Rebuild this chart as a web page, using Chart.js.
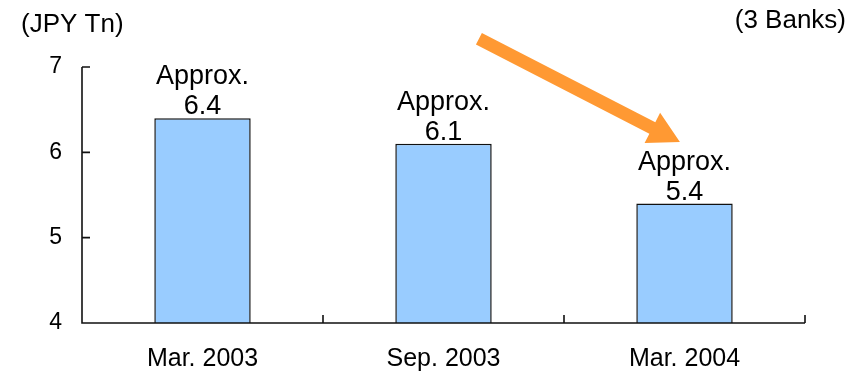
<!DOCTYPE html>
<html>
<head>
<meta charset="utf-8">
<script src="https://cdn.jsdelivr.net/npm/chart.js@4/dist/chart.umd.min.js"></script>
<style>
  html, body { margin: 0; padding: 0; background: #fff; }
  #wrap { width: 865px; height: 374px; }
</style>
</head>
<body>
<div id="wrap"><canvas id="c" width="865" height="374"></canvas></div>
<script>
// Problem-loan balance of the three banks (JPY trillion)
const categories = ['Mar. 2003', 'Sep. 2003', 'Mar. 2004'];
const balances = [6.4, 6.1, 5.4];
const yTicks = [4, 5, 6, 7];
const unitLabel = '(JPY Tn)';
const scopeLabel = '(3 Banks)';
const valuePrefix = 'Approx.';
// Trend arrow, in data units: [category position, value]
const arrowFrom = [1.147, 7.33];
const arrowTo = [1.981, 6.12];

const FONT = '"Liberation Sans", Arial, sans-serif';
const INK = '#111';

const decor = {
  id: 'decor',
  afterDatasetsDraw(chart) {
    const { ctx, chartArea: a, scales: { x, y } } = chart;
    ctx.save();
    // axes with inward tick marks
    ctx.strokeStyle = INK;
    ctx.lineWidth = 1.6;
    ctx.beginPath();
    ctx.moveTo(a.left, a.top);
    ctx.lineTo(a.left, a.bottom);
    ctx.lineTo(a.right, a.bottom);
    yTicks.forEach(v => {
      const py = y.getPixelForValue(v);
      ctx.moveTo(a.left, py);
      ctx.lineTo(a.left + 8, py);
    });
    const step = x.getPixelForValue(1) - x.getPixelForValue(0);
    for (let i = 1; i <= categories.length; i++) {
      const px = x.getPixelForValue(i) - step / 2;
      ctx.moveTo(px, a.bottom);
      ctx.lineTo(px, a.bottom - 8);
    }
    ctx.stroke();

    // value labels above bars
    ctx.fillStyle = '#000';
    ctx.font = '27px ' + FONT;
    ctx.textAlign = 'center';
    ctx.textBaseline = 'alphabetic';
    const meta = chart.getDatasetMeta(0);
    meta.data.forEach((bar, i) => {
      ctx.fillText(balances[i].toFixed(1), bar.x, bar.y - 4);
      ctx.fillText(valuePrefix, bar.x, bar.y - 34);
    });

    // corner captions
    ctx.font = '26px ' + FONT;
    ctx.textAlign = 'left';
    ctx.fillText(unitLabel, 21, 32);
    ctx.textAlign = 'right';
    ctx.fillText(scopeLabel, 846, 28);

    // trend arrow
    const x0 = x.getPixelForValue(arrowFrom[0]), y0 = y.getPixelForValue(arrowFrom[1]);
    const x1 = x.getPixelForValue(arrowTo[0]), y1 = y.getPixelForValue(arrowTo[1]);
    const dx = x1 - x0, dy = y1 - y0, len = Math.hypot(dx, dy);
    const ux = dx / len, uy = dy / len, nx = -uy, ny = ux;
    const head = 31, hw = 17, sw = 6.5;
    const bx = x1 - ux * head, by = y1 - uy * head;
    ctx.fillStyle = '#FF9933';
    ctx.beginPath();
    ctx.moveTo(x0 + nx * sw, y0 + ny * sw);
    ctx.lineTo(bx + nx * sw, by + ny * sw);
    ctx.lineTo(bx + nx * hw, by + ny * hw);
    ctx.lineTo(x1, y1);
    ctx.lineTo(bx - nx * hw, by - ny * hw);
    ctx.lineTo(bx - nx * sw, by - ny * sw);
    ctx.lineTo(x0 - nx * sw, y0 - ny * sw);
    ctx.closePath();
    ctx.fill();
    ctx.restore();
  }
};

new Chart(document.getElementById('c'), {
  type: 'bar',
  data: {
    labels: categories,
    datasets: [{
      data: balances,
      backgroundColor: '#99CCFF',
      borderColor: '#111',
      borderWidth: 1.5,
      borderSkipped: 'bottom',
      categoryPercentage: 1,
      barPercentage: 0.4
    }]
  },
  options: {
    responsive: false,
    animation: false,
    events: [],
    layout: { padding: { top: 67, right: 60, left: 0, bottom: 0 } },
    plugins: { legend: { display: false }, tooltip: { enabled: false } },
    scales: {
      x: {
        offset: true,
        grid: { display: false, drawTicks: false },
        border: { display: false },
        ticks: { color: '#000', font: { family: FONT, size: 25 }, padding: 21, maxRotation: 0 },
        afterFit(s) { s.height = 51; }
      },
      y: {
        min: 4,
        max: 7,
        afterBuildTicks(s) { s.ticks = yTicks.map(v => ({ value: v })); },
        grid: { display: false, drawTicks: false },
        border: { display: false },
        ticks: { color: '#000', font: { family: FONT, size: 23 }, padding: 20 },
        afterFit(s) { s.width = 82; }
      }
    }
  },
  plugins: [decor]
});
</script>
</body>
</html>
